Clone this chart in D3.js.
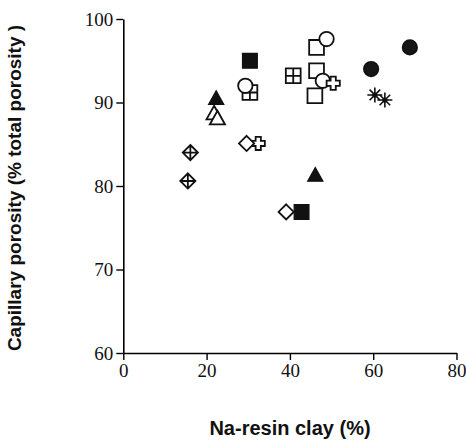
<!DOCTYPE html>
<html>
<head>
<meta charset="utf-8">
<script src="https://cdn.jsdelivr.net/npm/d3@7"></script>
<style>
  html, body { margin: 0; padding: 0; background: #fff; }
  svg { display: block; }
</style>
</head>
<body>
<svg id="chart" width="466" height="440"></svg>
<script>
// Axis settings
const xTicks = [0, 20, 40, 60, 80];
const yTicks = [60, 70, 80, 90, 100];
const xTitle = "Na-resin clay (%)";
const yTitle = "Capillary porosity (% total porosity )";

// Points per marker type: [Na-resin clay %, capillary porosity %]
const gridSquare     = [[30.4, 91.2], [40.8, 93.2]];
const openSquare     = [[46.4, 96.6], [46.4, 93.8], [46.0, 90.8]];
const filledSquare   = [[30.4, 95.0], [42.8, 76.9]];
const openCircle     = [[29.3, 92.0], [48.8, 97.6], [47.9, 92.6]];
const filledCircle   = [[59.5, 94.0], [68.8, 96.6]];
const openTriangle   = [[21.8, 88.7], [22.6, 88.1]];
const filledTriangle = [[22.3, 90.5], [46.1, 81.3]];
const gridDiamond    = [[16.1, 84.0], [15.5, 80.6]];
const openDiamond    = [[29.6, 85.1], [39.1, 76.9]];
const openCross      = [[50.4, 92.3], [32.4, 85.1]];
const asterisk       = [[60.4, 90.9], [62.8, 90.3]];

const svg = d3.select("#chart");
const x = d3.scaleLinear().domain([0, 80]).range([123.3, 456.5]);
const y = d3.scaleLinear().domain([60, 100]).range([353, 19]);

// Axes
const serif = "Liberation Serif, Times New Roman, serif";
const gx = svg.append("g").attr("transform", `translate(0,${y(60)})`)
  .call(d3.axisBottom(x).tickValues(xTicks).tickSize(7).tickSizeOuter(0).tickPadding(4));
const gy = svg.append("g").attr("transform", `translate(${x(0)},0)`)
  .call(d3.axisLeft(y).tickValues(yTicks).tickSize(7).tickSizeOuter(0).tickPadding(3));
[gx, gy].forEach(g => {
  g.attr("font-family", serif).attr("font-size", 19);
  g.select(".domain").attr("stroke", "#000").attr("stroke-width", 1.6);
  g.selectAll(".tick line").attr("stroke", "#000").attr("stroke-width", 1.4);
  g.selectAll(".tick text").attr("fill", "#111");
});

// Axis titles
svg.append("text")
  .attr("x", 290).attr("y", 435)
  .attr("text-anchor", "middle")
  .style("font-family", "'Liberation Sans', Arial, sans-serif")
  .style("font-weight", "bold").style("font-size", "20px").attr("fill", "#111")
  .text(xTitle);
svg.append("text")
  .attr("transform", "translate(21,188) rotate(-90)")
  .attr("text-anchor", "middle")
  .style("font-family", "'Liberation Sans', Arial, sans-serif")
  .style("font-weight", "bold").style("font-size", "19px").attr("fill", "#111")
  .text(yTitle);

// Marker shapes (paths centred on 0,0)
const sq = 7.4, dm = 7.6, tr = 7.6, cr = 7.2;
const shapes = {
  square: `M${-sq},${-sq}H${sq}V${sq}H${-sq}Z`,
  gridSquare: `M${-sq},${-sq}H${sq}V${sq}H${-sq}Z M0,${-sq}V${sq} M${-sq},0H${sq}`,
  diamond: `M0,${-dm}L${dm},0L0,${dm}L${-dm},0Z`,
  gridDiamond: `M0,${-dm}L${dm},0L0,${dm}L${-dm},0Z M0,${-dm}V${dm} M${-dm},0H${dm}`,
  triangle: `M0,${-tr}L${tr},${tr * 0.8}L${-tr},${tr * 0.8}Z`,
  cross: (() => { const a = 2.6, b = 6.6;
    return `M${-a},${-b}H${a}V${-a}H${b}V${a}H${a}V${b}H${-a}V${a}H${-b}V${-a}H${-a}Z`; })()
};

function drawPaths(data, d, fill, sw) {
  svg.append("g").selectAll("path").data(data).join("path")
    .attr("transform", p => `translate(${x(p[0])},${y(p[1])})`)
    .attr("d", d)
    .attr("fill", fill).attr("stroke", "#111").attr("stroke-width", sw)
    .attr("stroke-linejoin", "miter");
}
function drawCircles(data, fill) {
  svg.append("g").selectAll("circle").data(data).join("circle")
    .attr("cx", p => x(p[0])).attr("cy", p => y(p[1])).attr("r", cr)
    .attr("fill", fill).attr("stroke", "#111").attr("stroke-width", 1.8);
}
function drawAsterisks(data) {
  const g = svg.append("g").selectAll("g").data(data).join("g")
    .attr("transform", p => `translate(${x(p[0])},${y(p[1])})`);
  const L = 7.5, D = L * Math.SQRT1_2;
  g.append("path")
    .attr("d", `M${-L},0H${L}M0,${-L}V${L}M${-D},${-D}L${D},${D}M${-D},${D}L${D},${-D}`)
    .attr("stroke", "#111").attr("stroke-width", 1.6).attr("fill", "none");
  g.append("circle").attr("r", 2.6).attr("fill", "#111");
}

drawPaths(gridSquare, shapes.gridSquare, "#fff", 1.8);
drawPaths(openSquare, shapes.square, "#fff", 1.8);
drawPaths(filledSquare, shapes.square, "#111", 1.2);
drawCircles(openCircle, "#fff");
drawPaths(openCross, shapes.cross, "#fff", 1.8);
drawCircles(filledCircle, "#161616");
drawPaths(openTriangle, shapes.triangle, "#fff", 1.8);
drawPaths(filledTriangle, shapes.triangle, "#111", 1.2);
drawPaths(gridDiamond, shapes.gridDiamond, "#fff", 1.8);
drawPaths(openDiamond, shapes.diamond, "#fff", 1.8);
drawAsterisks(asterisk);
</script>
</body>
</html>
